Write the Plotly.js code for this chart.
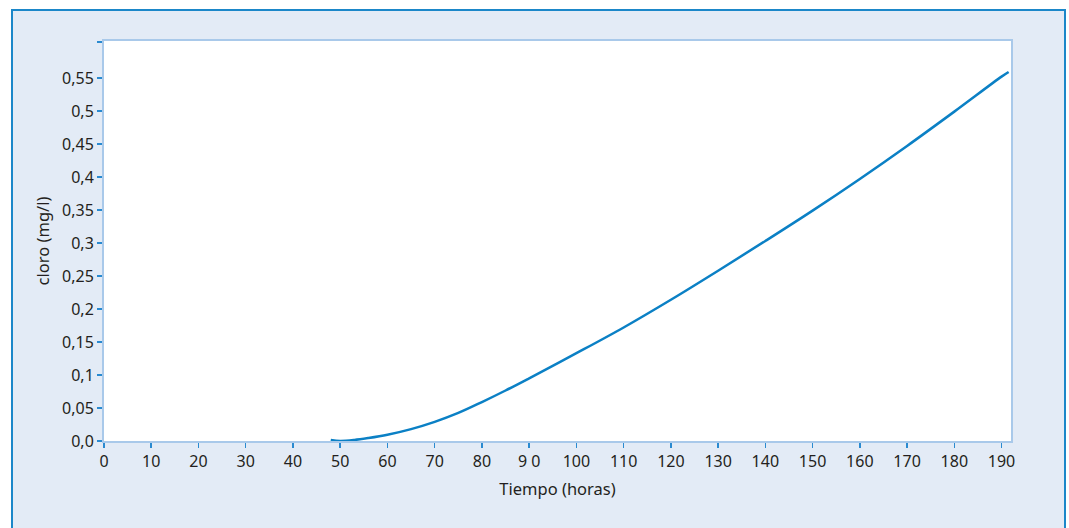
<!DOCTYPE html>
<html>
<head>
<meta charset="utf-8">
<script src="https://cdn.plot.ly/plotly-3.0.1.min.js"></script>
<style>
  html, body { margin: 0; padding: 0; background: #ffffff; }
  #frame { position: absolute; left: 11px; top: 9px; width: 1051px; height: 540px;
           border: 2px solid #1b87c9; background: #e3ebf6; }
  #chart { position: absolute; left: 0; top: 0; width: 1069px; height: 528px; }
</style>
</head>
<body>
<div id="frame"></div>
<div id="chart"></div>
<script>
// Data
const tiempoHoras = [48, 50, 53, 56, 60, 65, 70, 75, 80, 85, 90, 100, 110, 120, 130, 140, 150, 160, 170, 180, 190, 191.5];
const cloroMgL   = [0.0015, 0.0, 0.0015, 0.0045, 0.0095, 0.018, 0.029, 0.0425, 0.059, 0.0765, 0.095, 0.133, 0.172, 0.214, 0.258, 0.303, 0.349, 0.397, 0.447, 0.499, 0.552, 0.559];

const xTickVals  = [0, 10, 20, 30, 40, 50, 60, 70, 80, 90, 100, 110, 120, 130, 140, 150, 160, 170, 180, 190];
const xTickText  = ["0", "10", "20", "30", "40", "50", "60", "70", "80", "9 0", "100", "110", "120", "130", "140", "150", "160", "170", "180", "190"];
const yTickVals  = [0, 0.05, 0.1, 0.15, 0.2, 0.25, 0.3, 0.35, 0.4, 0.45, 0.5, 0.55, 0.6045];
const yTickText  = ["0,0", "0,05", "0,1", "0,15", "0,2", "0,25", "0,3", "0,35", "0,4", "0,45", "0,5", "0,55", ""];

const fontFam = "Noto Sans, Open Sans, sans-serif";
const txtColor = "#231f20";

const trace = {
  x: tiempoHoras,
  y: cloroMgL,
  type: "scatter",
  mode: "lines",
  line: { color: "#0b80c5", width: 2.5, shape: "spline", smoothing: 1 },
  hoverinfo: "x+y"
};

const layout = {
  width: 1069,
  height: 528,
  margin: { l: 104, r: 58, t: 41, b: 87 },
  paper_bgcolor: "rgba(0,0,0,0)",
  plot_bgcolor: "#ffffff",
  showlegend: false,
  font: { family: fontFam, size: 16, color: txtColor },
  xaxis: {
    range: [0, 192],
    tickmode: "array",
    tickvals: xTickVals,
    ticktext: xTickText,
    ticks: "outside",
    ticklen: 5,
    tickwidth: 1.5,
    tickcolor: "#2a8ad0",
    showline: true,
    linecolor: "#a9c9ea",
    linewidth: 2,
    mirror: true,
    showgrid: false,
    zeroline: false,
    tickfont: { family: fontFam, size: 16, color: txtColor },
    title: { text: "Tiempo (horas)", font: { family: fontFam, size: 16.5, color: txtColor }, standoff: 12 },
    automargin: false
  },
  yaxis: {
    range: [0, 0.606],
    tickmode: "array",
    tickvals: yTickVals,
    ticktext: yTickText,
    ticks: "outside",
    ticklen: 5,
    tickwidth: 1.5,
    tickcolor: "#2a8ad0",
    showline: true,
    linecolor: "#a9c9ea",
    linewidth: 2,
    mirror: true,
    showgrid: false,
    zeroline: false,
    tickfont: { family: fontFam, size: 16, color: txtColor },
    title: { text: "cloro (mg/l)", font: { family: fontFam, size: 16.5, color: txtColor }, standoff: 8 },
    automargin: false
  }
};

Plotly.newPlot("chart", [trace], layout, { displayModeBar: false, staticPlot: true });
</script>
</body>
</html>
